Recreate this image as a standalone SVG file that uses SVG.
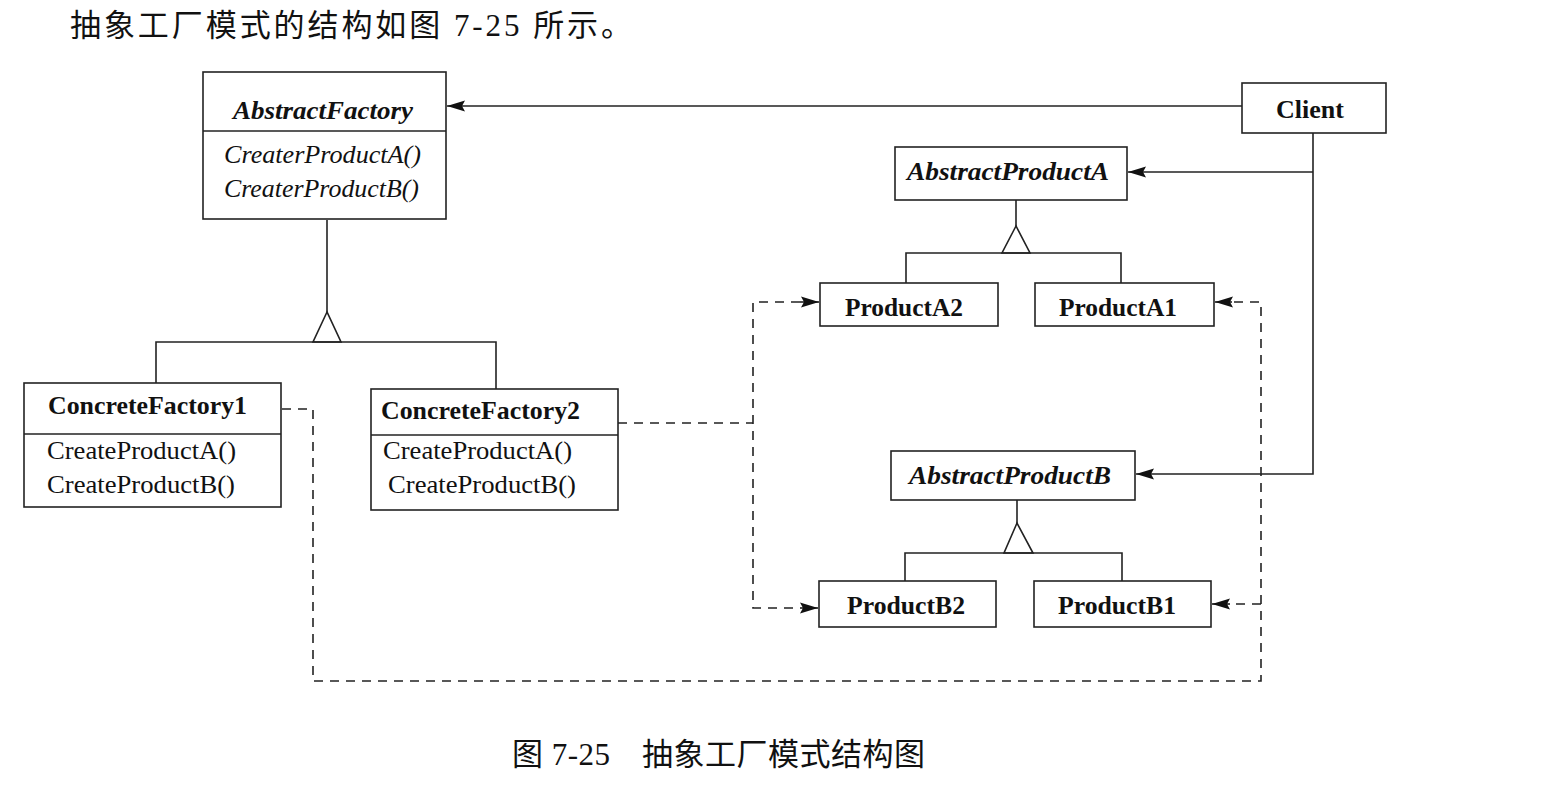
<svg xmlns="http://www.w3.org/2000/svg" width="1557" height="806" viewBox="0 0 1557 806">
<style>
.box{fill:#fff;stroke:#222;stroke-width:1.6}
.ln{fill:none;stroke:#222;stroke-width:1.6}
.dash{fill:none;stroke:#222;stroke-width:1.6;stroke-dasharray:9,7}
.tri{fill:#fff;stroke:#222;stroke-width:1.6}
.t{font-family:"Liberation Serif","Times New Roman",serif;font-size:26px;fill:#111}
.b{font-weight:bold}
.i{font-style:italic}
.cn{font-family:"Liberation Serif","Noto Sans CJK SC",serif;font-size:31px;fill:#111}
</style>
<defs>
<marker id="ah" markerUnits="userSpaceOnUse" markerWidth="20" markerHeight="12" refX="18" refY="6" orient="auto">
<path d="M0,0.5 L18,6 L0,11.5 L3,6 Z" fill="#111"/>
</marker>
</defs>
<rect width="1557" height="806" fill="#fff"/>
<text class="cn" x="70" y="36" textLength="562" lengthAdjust="spacing">抽象工厂模式的结构如图 7-25 所示。</text>
<text class="cn" x="512" y="765" font-size="29" textLength="413" lengthAdjust="spacing">图 7-25　抽象工厂模式结构图</text>

<g id="connectors">
<line class="ln" x1="1242" y1="106" x2="447" y2="106" marker-end="url(#ah)"/>
<polyline class="ln" points="1313,133 1313,474 1136,474" marker-end="url(#ah)"/>
<line class="ln" x1="1313" y1="172" x2="1128" y2="172" marker-end="url(#ah)"/>
<line class="ln" x1="327" y1="220" x2="327" y2="312"/>
<polygon class="tri" points="327,312 313,342 341,342"/>
<polyline class="ln" points="156,383 156,342 496,342 496,389"/>
<line class="ln" x1="1016" y1="200" x2="1016" y2="226"/>
<polygon class="tri" points="1016,226 1002,253 1030,253"/>
<polyline class="ln" points="906,283 906,253 1121,253 1121,283"/>
<line class="ln" x1="1017" y1="500" x2="1017" y2="523"/>
<polygon class="tri" points="1017,523 1004,553 1033,553"/>
<polyline class="ln" points="905,581 905,553 1122,553 1122,581"/>
<line class="dash" x1="618" y1="423" x2="753" y2="423"/>
<polyline class="dash" points="800,302 753,302 753,608 800,608"/>
<line class="ln" x1="800" y1="302" x2="819" y2="302" marker-end="url(#ah)"/>
<line class="ln" x1="800" y1="608" x2="818" y2="608" marker-end="url(#ah)"/>
<polyline class="dash" points="282,409 313,409 313,681 1261,681 1261,302 1232,302"/>
<line class="dash" x1="1261" y1="604" x2="1230" y2="604"/>
<line class="ln" x1="1232" y1="302" x2="1215" y2="302" marker-end="url(#ah)"/>
<line class="ln" x1="1230" y1="604" x2="1212" y2="604" marker-end="url(#ah)"/>
</g>

<g id="AbstractFactory">
<rect class="box" x="203" y="72" width="243" height="147"/>
<line class="ln" x1="203" y1="131" x2="446" y2="131"/>
<text class="t b i" x="323" y="119" text-anchor="middle" textLength="180" lengthAdjust="spacingAndGlyphs">AbstractFactory</text>
<text class="t i" x="224" y="163" textLength="197" lengthAdjust="spacingAndGlyphs">CreaterProductA()</text>
<text class="t i" x="224" y="197" textLength="195" lengthAdjust="spacingAndGlyphs">CreaterProductB()</text>
</g>
<g id="Client">
<rect class="box" x="1242" y="83" width="144" height="50"/>
<text class="t b" x="1310" y="118" text-anchor="middle">Client</text>
</g>
<g id="ConcreteFactory1">
<rect class="box" x="24" y="383" width="257" height="124"/>
<line class="ln" x1="24" y1="434" x2="281" y2="434"/>
<text class="t b" x="48" y="414" textLength="199" lengthAdjust="spacingAndGlyphs">ConcreteFactory1</text>
<text class="t" x="47" y="459" textLength="189" lengthAdjust="spacingAndGlyphs">CreateProductA()</text>
<text class="t" x="47" y="493" textLength="188" lengthAdjust="spacingAndGlyphs">CreateProductB()</text>
</g>
<g id="ConcreteFactory2">
<rect class="box" x="371" y="389" width="247" height="121"/>
<line class="ln" x1="371" y1="435" x2="618" y2="435"/>
<text class="t b" x="381" y="419" textLength="199" lengthAdjust="spacingAndGlyphs">ConcreteFactory2</text>
<text class="t" x="383" y="459" textLength="189" lengthAdjust="spacingAndGlyphs">CreateProductA()</text>
<text class="t" x="388" y="493" textLength="188" lengthAdjust="spacingAndGlyphs">CreateProductB()</text>
</g>
<g id="AbstractProductA">
<rect class="box" x="895" y="147" width="232" height="53"/>
<text class="t b i" x="1008" y="180" text-anchor="middle" textLength="202" lengthAdjust="spacingAndGlyphs">AbstractProductA</text>
</g>
<g id="ProductA2">
<rect class="box" x="820" y="283" width="178" height="43"/>
<text class="t b" x="904" y="316" text-anchor="middle" textLength="118" lengthAdjust="spacingAndGlyphs">ProductA2</text>
</g>
<g id="ProductA1">
<rect class="box" x="1035" y="283" width="179" height="43"/>
<text class="t b" x="1118" y="316" text-anchor="middle" textLength="118" lengthAdjust="spacingAndGlyphs">ProductA1</text>
</g>
<g id="AbstractProductB">
<rect class="box" x="891" y="451" width="244" height="49"/>
<text class="t b i" x="1010" y="484" text-anchor="middle" textLength="202" lengthAdjust="spacingAndGlyphs">AbstractProductB</text>
</g>
<g id="ProductB2">
<rect class="box" x="819" y="581" width="177" height="46"/>
<text class="t b" x="906" y="614" text-anchor="middle" textLength="118" lengthAdjust="spacingAndGlyphs">ProductB2</text>
</g>
<g id="ProductB1">
<rect class="box" x="1034" y="581" width="177" height="46"/>
<text class="t b" x="1117" y="614" text-anchor="middle" textLength="118" lengthAdjust="spacingAndGlyphs">ProductB1</text>
</g>
</svg>
